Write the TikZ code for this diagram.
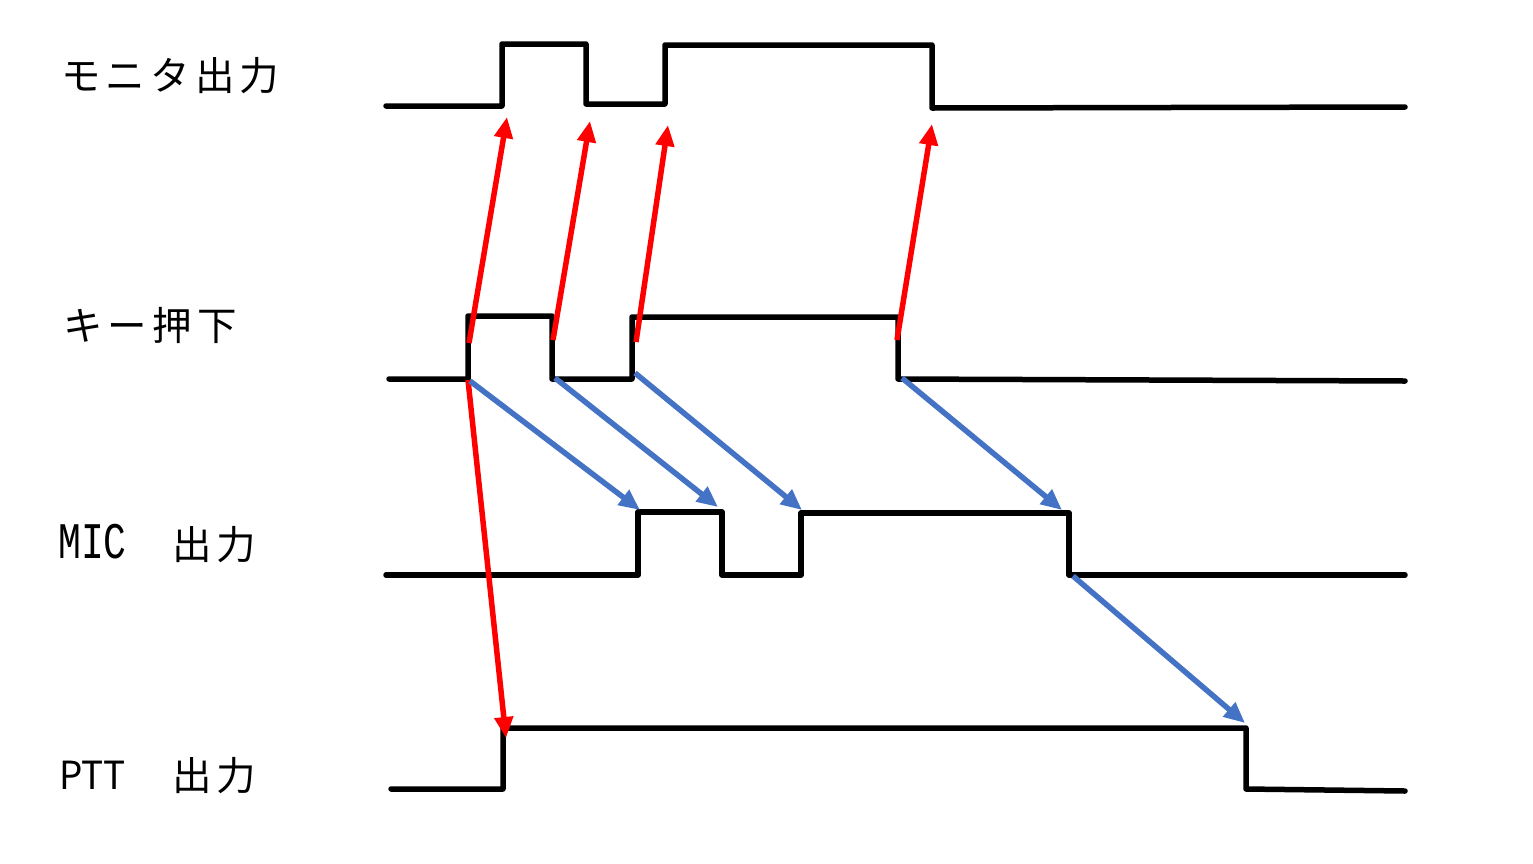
\documentclass[tikz,border=0pt]{standalone}
\usepackage{fontspec}
\usetikzlibrary{arrows.meta}
\newfontfamily\jpfont[LetterSpace=13]{Noto Sans CJK JP}
\newfontfamily\jpplain{Noto Sans CJK JP}
\newfontfamily\monofont{Liberation Mono}
\definecolor{arrred}{RGB}{255,0,0}
\definecolor{arrblue}{RGB}{68,114,196}
\tikzset{
  wave/.style={draw=black, line width=5.5pt, line join=round, line cap=round},
  redarr/.style={draw=arrred, line width=5.5pt, -{Triangle[length=21pt,width=18pt]}},
  bluearr/.style={draw=arrblue, line width=5.5pt, -{Triangle[length=21pt,width=18pt]}},
  lbl/.style={anchor=base west, inner sep=0pt, font=\fontsize{39.5}{42}\selectfont\jpfont}
}
\begin{document}
\begin{tikzpicture}[x=1pt,y=-1pt]
\useasboundingbox (0,0) rectangle (1533,863);
% labels
\node[lbl] (lmon) at (61,90) {モニタ出力};
\node[lbl] (lkey) at (63,340) {キー押下};
\node[lbl, font=\fontsize{38}{40}\selectfont\monofont] (lmic) at (58,558) {\scalebox{1}[1.35]{MIC}};
\node[lbl] (lmic2) at (172,559) {出力};
\node[lbl, font=\fontsize{38}{40}\selectfont\jpplain] (lptt) at (59,789) {\scalebox{0.97}[1.02]{PTT}};
\node[lbl] (lptt2) at (172,790) {出力};
% waveform points
% monitor
\coordinate (m0) at (386,106); \coordinate (m1) at (502,106); \coordinate (m2) at (502,44);
\coordinate (m3) at (586,44); \coordinate (m4) at (586,104); \coordinate (m5) at (665,104);
\coordinate (m6) at (665,45); \coordinate (m7) at (932,45); \coordinate (m8) at (932,108);
\coordinate (m9) at (1405,107);
% key
\coordinate (k0) at (389,379); \coordinate (k1) at (468,379); \coordinate (k2) at (468,316);
\coordinate (k3) at (552,316); \coordinate (k4) at (552,379); \coordinate (k5) at (632,379);
\coordinate (k6) at (632,317); \coordinate (k7) at (898,317); \coordinate (k8) at (898,379);
\coordinate (k9) at (1405,381);
% mic
\coordinate (c0) at (386,575); \coordinate (c1) at (638,575); \coordinate (c2) at (638,512);
\coordinate (c3) at (722,512); \coordinate (c4) at (722,575); \coordinate (c5) at (801,575);
\coordinate (c6) at (801,513); \coordinate (c7) at (1069,513); \coordinate (c8) at (1069,575);
\coordinate (c9) at (1405,575);
% ptt
\coordinate (p0) at (391,789); \coordinate (p1) at (503,789); \coordinate (p2) at (503,728);
\coordinate (p3) at (1246,728); \coordinate (p4) at (1246,789); \coordinate (p5) at (1405,791);
\draw[wave] (m0)--(m1)--(m2)--(m3)--(m4)--(m5)--(m6)--(m7)--(m8)--(m9);
\draw[wave] (k0)--(k1)--(k2)--(k3)--(k4)--(k5)--(k6)--(k7)--(k8)--(k9);
\draw[wave] (c0)--(c1)--(c2)--(c3)--(c4)--(c5)--(c6)--(c7)--(c8)--(c9);
\draw[wave] (p0)--(p1)--(p2)--(p3)--(p4)--(p5);
% arrow endpoints
\coordinate (r1s) at (469,343); \coordinate (r1e) at (507,117);
\coordinate (r2s) at (553,340); \coordinate (r2e) at (590,121);
\coordinate (r3s) at (636,342); \coordinate (r3e) at (668,125);
\coordinate (r4s) at (897,340); \coordinate (r4e) at (932,124);
\coordinate (r5s) at (468,380); \coordinate (r5e) at (506,738);
\coordinate (b1s) at (470,381); \coordinate (b1e) at (640,510);
\coordinate (b2s) at (555,378); \coordinate (b2e) at (718,507);
\coordinate (b3s) at (635,373); \coordinate (b3e) at (802,510);
\coordinate (b4s) at (902,378); \coordinate (b4e) at (1062,510);
\coordinate (b5s) at (1073,576); \coordinate (b5e) at (1245,723);
\draw[redarr] (r1s) -- (r1e);
\draw[redarr] (r2s) -- (r2e);
\draw[redarr] (r3s) -- (r3e);
\draw[redarr] (r4s) -- (r4e);
\draw[redarr] (r5s) -- (r5e);
\draw[bluearr] (b1s) -- (b1e);
\draw[bluearr] (b2s) -- (b2e);
\draw[bluearr] (b3s) -- (b3e);
\draw[bluearr] (b4s) -- (b4e);
\draw[bluearr] (b5s) -- (b5e);
\end{tikzpicture}
\end{document}
